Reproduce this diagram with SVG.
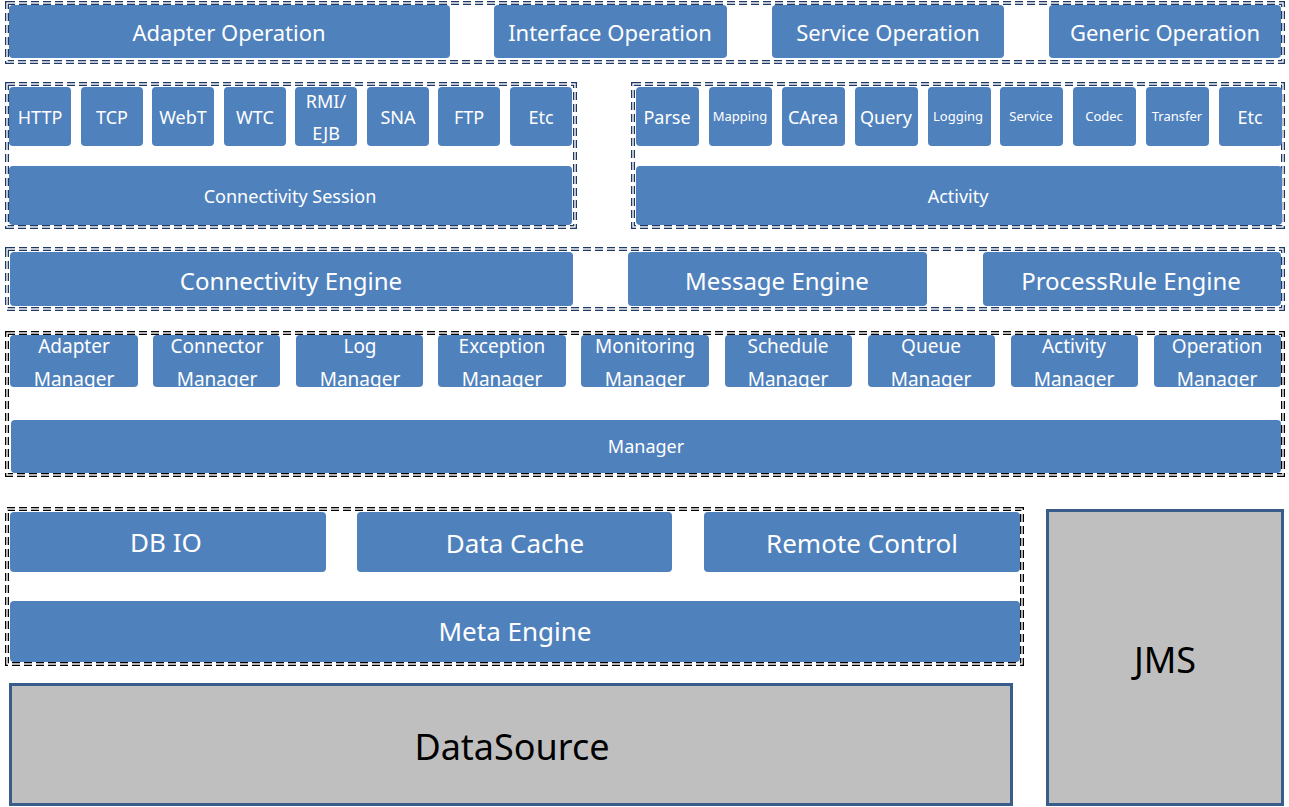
<svg xmlns="http://www.w3.org/2000/svg" width="1289" height="807" viewBox="0 0 1289 807">
<style>
.b{fill:#4F81BD;}
.t{fill:#FFFFFF;font-family:"Noto Sans","Open Sans",sans-serif;text-anchor:middle;dominant-baseline:central;}
.k{fill:#000000;font-family:"Noto Sans","Open Sans",sans-serif;text-anchor:middle;dominant-baseline:central;}
.dn{fill:none;stroke:#1F3864;stroke-width:4;stroke-dasharray:8 4;}
.dk{fill:none;stroke:#000000;stroke-width:4;stroke-dasharray:8 4;}
.dw{fill:none;stroke:#FFFFFF;stroke-width:1.4;}
.g{fill:#BFBFBF;stroke:#385D8A;stroke-width:3;}
.f22{font-size:22px;}
.f18{font-size:18px;}
.f13{font-size:13px;}
.f23{font-size:24px;}
.f19{font-size:19px;}
.f24{font-size:26px;}
.f34{font-size:36px;}
</style>
<rect width="1289" height="807" fill="#FFFFFF"/>

<g id="containers">
<rect class="dn" x="7" y="3" width="1276" height="59"/><rect class="dw" x="7" y="3" width="1276" height="59"/>
<rect class="dn" x="7" y="84" width="568" height="143"/><rect class="dw" x="7" y="84" width="568" height="143"/>
<rect class="dn" x="633" y="84" width="650" height="143"/><rect class="dw" x="633" y="84" width="650" height="143"/>
<rect class="dn" x="7" y="249" width="1276" height="60"/><rect class="dw" x="7" y="249" width="1276" height="60"/>
<rect class="dk" x="7" y="333" width="1276" height="142"/><rect class="dw" x="7" y="333" width="1276" height="142"/>
<rect class="dk" x="7" y="509" width="1015" height="155"/><rect class="dw" x="7" y="509" width="1015" height="155"/>
</g>

<g id="operations">
<g id="adapter-operation"><rect class="b" x="9" y="5" width="441" height="53" rx="4"/><text class="t f22" x="229" y="32">Adapter Operation</text></g>
<g id="interface-operation"><rect class="b" x="494" y="5" width="233" height="53" rx="4"/><text class="t f22" x="610" y="32">Interface Operation</text></g>
<g id="service-operation"><rect class="b" x="772" y="5" width="232" height="53" rx="4"/><text class="t f22" x="888" y="32">Service Operation</text></g>
<g id="generic-operation"><rect class="b" x="1049" y="5" width="232" height="53" rx="4"/><text class="t f22" x="1165" y="32">Generic Operation</text></g>
</g>

<g id="connectivity">
<g id="http"><rect class="b" x="9" y="87" width="62" height="59" rx="4"/><text class="t f18" x="40" y="117">HTTP</text></g>
<g id="tcp"><rect class="b" x="81" y="87" width="62" height="59" rx="4"/><text class="t f18" x="112" y="117">TCP</text></g>
<g id="webt"><rect class="b" x="152" y="87" width="62" height="59" rx="4"/><text class="t f18" x="183" y="117">WebT</text></g>
<g id="wtc"><rect class="b" x="224" y="87" width="62" height="59" rx="4"/><text class="t f18" x="255" y="117">WTC</text></g>
<g id="rmi-ejb"><rect class="b" x="295" y="87" width="62" height="59" rx="4"/><text class="t f18" x="326" y="101">RMI/</text><text class="t f18" x="326" y="133">EJB</text></g>
<g id="sna"><rect class="b" x="367" y="87" width="62" height="59" rx="4"/><text class="t f18" x="398" y="117">SNA</text></g>
<g id="ftp"><rect class="b" x="438" y="87" width="62" height="59" rx="4"/><text class="t f18" x="469" y="117">FTP</text></g>
<g id="etc1"><rect class="b" x="510" y="87" width="62" height="59" rx="4"/><text class="t f18" x="541" y="117">Etc</text></g>
<g id="connectivity-session"><rect class="b" x="9" y="166" width="563" height="59" rx="4"/><text class="t f18" x="290" y="196">Connectivity Session</text></g>
</g>

<g id="activities">
<g id="parse"><rect class="b" x="636" y="87" width="63" height="59" rx="4"/><text class="t f18" x="667" y="117">Parse</text></g>
<g id="mapping"><rect class="b" x="709" y="87" width="63" height="59" rx="4"/><text class="t f13" x="740" y="116">Mapping</text></g>
<g id="carea"><rect class="b" x="782" y="87" width="63" height="59" rx="4"/><text class="t f18" x="813" y="117">CArea</text></g>
<g id="query"><rect class="b" x="855" y="87" width="63" height="59" rx="4"/><text class="t f18" x="886" y="117">Query</text></g>
<g id="logging"><rect class="b" x="928" y="87" width="63" height="59" rx="4"/><text class="t f13" x="958" y="116">Logging</text></g>
<g id="service"><rect class="b" x="1000" y="87" width="63" height="59" rx="4"/><text class="t f13" x="1031" y="116">Service</text></g>
<g id="codec"><rect class="b" x="1073" y="87" width="63" height="59" rx="4"/><text class="t f13" x="1104" y="116">Codec</text></g>
<g id="transfer"><rect class="b" x="1146" y="87" width="63" height="59" rx="4"/><text class="t f13" x="1177" y="116">Transfer</text></g>
<g id="etc2"><rect class="b" x="1219" y="87" width="63" height="59" rx="4"/><text class="t f18" x="1250" y="117">Etc</text></g>
<g id="activity"><rect class="b" x="636" y="166" width="646" height="59" rx="4"/><text class="t f18" x="958" y="196">Activity</text></g>
</g>

<g id="engines">
<g id="connectivity-engine"><rect class="b" x="10" y="252" width="563" height="54" rx="4"/><text class="t f23" x="291" y="280">Connectivity Engine</text></g>
<g id="message-engine"><rect class="b" x="628" y="252" width="299" height="54" rx="4"/><text class="t f23" x="777" y="280">Message Engine</text></g>
<g id="processrule-engine"><rect class="b" x="983" y="252" width="298" height="54" rx="4"/><text class="t f23" x="1131" y="280">ProcessRule Engine</text></g>
</g>

<g id="managers">
<g id="adapter-manager"><rect class="b" x="10" y="335" width="128" height="52" rx="4"/><text class="t f19" x="74" y="346">Adapter</text><text class="t f19" x="74" y="379">Manager</text></g>
<g id="connector-manager"><rect class="b" x="153" y="335" width="127" height="52" rx="4"/><text class="t f19" x="217" y="346">Connector</text><text class="t f19" x="217" y="379">Manager</text></g>
<g id="log-manager"><rect class="b" x="296" y="335" width="127" height="52" rx="4"/><text class="t f19" x="360" y="346">Log</text><text class="t f19" x="360" y="379">Manager</text></g>
<g id="exception-manager"><rect class="b" x="438" y="335" width="128" height="52" rx="4"/><text class="t f19" x="502" y="346">Exception</text><text class="t f19" x="502" y="379">Manager</text></g>
<g id="monitoring-manager"><rect class="b" x="581" y="335" width="128" height="52" rx="4"/><text class="t f19" x="645" y="346">Monitoring</text><text class="t f19" x="645" y="379">Manager</text></g>
<g id="schedule-manager"><rect class="b" x="725" y="335" width="127" height="52" rx="4"/><text class="t f19" x="788" y="346">Schedule</text><text class="t f19" x="788" y="379">Manager</text></g>
<g id="queue-manager"><rect class="b" x="868" y="335" width="127" height="52" rx="4"/><text class="t f19" x="931" y="346">Queue</text><text class="t f19" x="931" y="379">Manager</text></g>
<g id="activity-manager"><rect class="b" x="1011" y="335" width="127" height="52" rx="4"/><text class="t f19" x="1074" y="346">Activity</text><text class="t f19" x="1074" y="379">Manager</text></g>
<g id="operation-manager"><rect class="b" x="1154" y="335" width="127" height="52" rx="4"/><text class="t f19" x="1217" y="346">Operation</text><text class="t f19" x="1217" y="379">Manager</text></g>
<g id="manager"><rect class="b" x="11" y="420" width="1270" height="53" rx="4"/><text class="t f18" x="646" y="446">Manager</text></g>
</g>

<g id="meta">
<g id="db-io"><rect class="b" x="10" y="512" width="316" height="60" rx="4"/><text class="t f24" x="166" y="542">DB IO</text></g>
<g id="data-cache"><rect class="b" x="357" y="512" width="315" height="60" rx="4"/><text class="t f24" x="515" y="543">Data Cache</text></g>
<g id="remote-control"><rect class="b" x="704" y="512" width="316" height="60" rx="4"/><text class="t f24" x="862" y="543">Remote Control</text></g>
<g id="meta-engine"><rect class="b" x="10" y="601" width="1010" height="61" rx="4"/><text class="t f24" x="515" y="631">Meta Engine</text></g>
</g>

<g id="datasource"><rect class="g" x="10.5" y="684.5" width="1001" height="120"/><text class="k f34" x="512" y="746">DataSource</text></g>
<g id="jms"><rect class="g" x="1047.5" y="510.5" width="235" height="294"/><text class="k f34" x="1165" y="659">JMS</text></g>

<g id="connectors"></g>
</svg>
